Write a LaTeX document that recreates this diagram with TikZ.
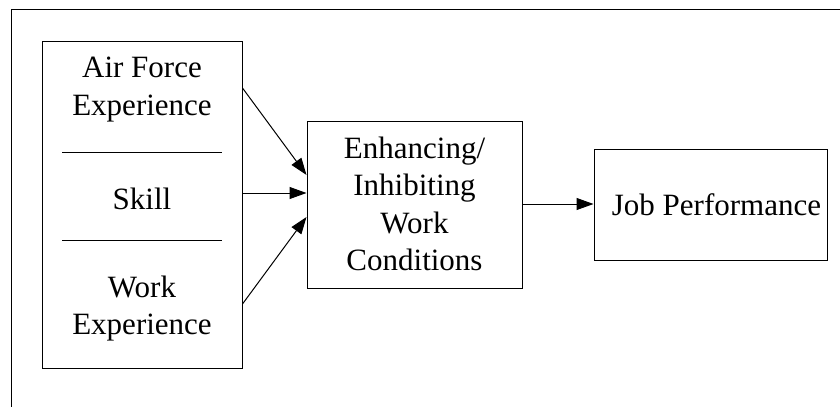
\documentclass[tikz,border=0pt]{standalone}
\usepackage{fontspec}
\setmainfont{Liberation Serif}
\usetikzlibrary{arrows.meta}
\begin{document}
\begin{tikzpicture}[x=1pt,y=-1pt,line width=1pt,
		every node/.style={font=\fontsize{31}{37.5}\selectfont, align=center, inner sep=0pt},
		box/.style={draw, line width=1pt},
		arr/.style={-{Triangle[length=17pt,width=12pt]}}]
				\useasboundingbox (0,0) rectangle (840,407);
				\draw (840,9) -- (11,9) -- (11,407);
				
				\node[box, minimum width=200pt, minimum height=327pt] (factors) at (142,204.5) {};
				\node[box, minimum width=215pt, minimum height=167pt] (cond) at (414.5,204.5) {};
				\node[box, minimum width=233pt, minimum height=111pt] (perf) at (710.5,204.5) {};
				
				\node (afe) at (142,89.5) {Air Force\\Experience};
				\node (skill) at (142,198.5) {Skill};
				\node (wexp) at (142,308.5) {Work\\Experience};
				\node (condtext) at (414.5,204) {Enhancing/\\Inhibiting\\Work\\Conditions};
				\node (perftext) at (716.5,204.5) {Job Performance};
				
				\draw (62,152) -- (222,152);
				\draw (62,240) -- (222,240);
				
				\draw[arr] (factors.east |- 0,88) -- (cond.west |- 0,175);
				\draw[arr] (factors.east |- 0,193) -- (cond.west |- 0,193);
				\draw[arr] (factors.east |- 0,304) -- (cond.west |- 0,217);
				\draw[arr] (cond.east |- 0,204) -- (perf.west |- 0,204);
			\end{tikzpicture}
\end{document}
